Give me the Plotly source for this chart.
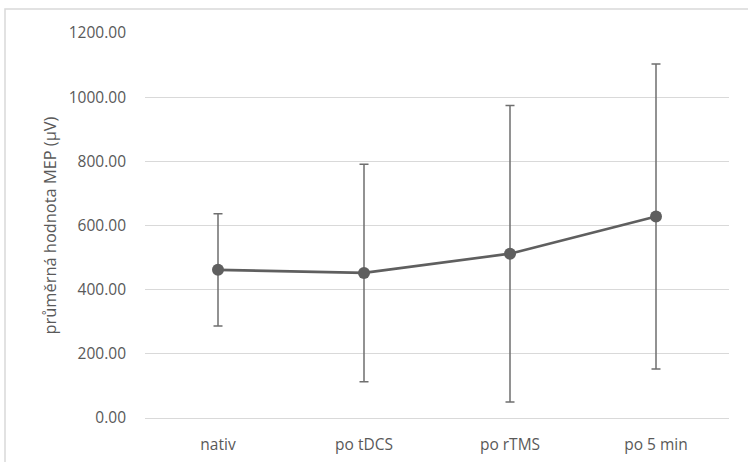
import plotly.graph_objects as go

categories = ["nativ", "po tDCS", "po rTMS", "po 5 min"]
means = [462, 452, 512, 628]
errors = [175, 339, 462, 475]
y_title = "průměrná hodnota MEP (µV)"

W, H = 748, 462
L, R, T, B = 145, 19, 33, 44
pw, ph = W - L - R, H - T - B

fig = go.Figure()
fig.add_trace(go.Scatter(
    x=categories, y=means, mode="lines+markers",
    line=dict(color="#5f5f5f", width=2.75),
    marker=dict(color="#5f5f5f", size=12),
    error_y=dict(type="data", array=errors, visible=True,
                 color="#6f6f6f", thickness=1.5, width=4.5),
    showlegend=False,
))

font_family = "Open Sans, Lato, sans-serif"
fig.update_layout(
    width=W, height=H,
    margin=dict(l=L, r=R, t=T, b=B, pad=0, autoexpand=False),
    paper_bgcolor="white", plot_bgcolor="white",
    font=dict(family=font_family, size=15.5, color="#595959"),
    xaxis=dict(type="category", range=[-0.5, 3.5], showgrid=False,
               showline=False, zeroline=False, ticks="", automargin=False,
               tickfont=dict(size=15.5, color="#595959"),
               ticklabelstandoff=15),
    yaxis=dict(range=[0, 1200], tickvals=[0, 200, 400, 600, 800, 1000, 1200],
               tickformat=".2f", showgrid=True, gridcolor="#d9d9d9",
               gridwidth=1, zeroline=True, zerolinecolor="#d9d9d9",
               zerolinewidth=1, showline=False, ticks="", automargin=False,
               tickfont=dict(size=15.5, color="#595959"),
               ticklabelstandoff=18,
               title=dict(text=y_title, font=dict(size=16.4, color="#595959"),
                          standoff=8)),
)

# outer chart border (partially cropped at right/bottom)
fig.add_shape(type="rect", xref="paper", yref="paper",
              x0=(5 - L) / pw, x1=(W + 3 - L) / pw,
              y0=-(H + 3 - (H - B)) / ph, y1=((H - B) - 9) / ph,
              line=dict(color="#d9d9d9", width=1.5), fillcolor="rgba(0,0,0,0)",
              layer="below")

fig.write_html("out.html", config={"displayModeBar": False},
               post_script="document.body.style.margin='0';document.body.style.overflow='hidden';")
